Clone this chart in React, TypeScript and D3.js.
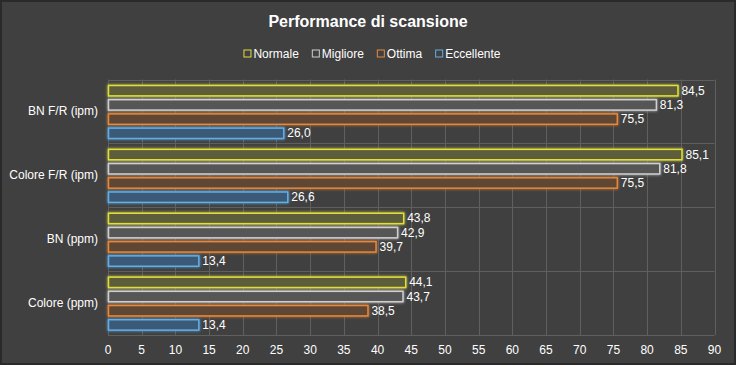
import React, { useRef, useEffect } from 'react';
import * as d3 from 'd3';

const categories = ['BN F/R (ipm)', 'Colore F/R (ipm)', 'BN (ppm)', 'Colore (ppm)'];
const seriesNames = ['Normale', 'Migliore', 'Ottima', 'Eccellente'];
const normale = [84.5, 85.1, 43.8, 44.1];
const migliore = [81.3, 81.8, 42.9, 43.7];
const ottima = [75.5, 75.5, 39.7, 38.5];
const eccellente = [26.0, 26.6, 13.4, 13.4];
const xTicks = [0, 5, 10, 15, 20, 25, 30, 35, 40, 45, 50, 55, 60, 65, 70, 75, 80, 85, 90];

const strokes = ['#dede3c', '#cfcfcf', '#e8883a', '#62aee6'];
const fills = ['#5d5d3a', '#565656', '#5f4636', '#3b5a78'];

const App = () => {
  const ref = useRef<SVGSVGElement>(null);

  useEffect(() => {
    document.body.style.margin = '0';
    const width = 736, height = 365;
    const margin = { top: 79.5, right: 22, bottom: 30, left: 108 };
    const font = '"Liberation Sans", Arial, sans-serif';

    const svg = d3.select(ref.current);
    svg.selectAll('*').remove();
    svg.attr('width', width).attr('height', height);

    const defs = svg.append('defs');
    const f = defs.append('filter').attr('id', 'glow')
      .attr('x', '-20%').attr('y', '-60%').attr('width', '140%').attr('height', '220%');
    f.append('feGaussianBlur').attr('in', 'SourceGraphic').attr('stdDeviation', 1.6).attr('result', 'b');
    const m = f.append('feMerge');
    m.append('feMergeNode').attr('in', 'b');
    m.append('feMergeNode').attr('in', 'SourceGraphic');

    svg.append('rect').attr('width', width).attr('height', height).attr('fill', '#2a2a2a');
    svg.append('rect').attr('x', 2).attr('y', 2).attr('width', width - 4).attr('height', height - 4).attr('fill', '#404040');

    svg.append('text').attr('x', width / 2).attr('y', 27)
      .attr('text-anchor', 'middle').attr('fill', '#ffffff')
      .style('font-family', font).style('font-weight', 'bold').style('font-size', '16px')
      .text('Performance di scansione');

    // legend
    const lg = svg.append('g');
    let lx = 0;
    seriesNames.forEach((name, i) => {
      const g = lg.append('g').attr('transform', `translate(${lx},0)`);
      g.append('rect').attr('x', 0.5).attr('y', -3.5).attr('width', 7).attr('height', 7)
        .attr('fill', 'none').attr('stroke', strokes[i]).attr('stroke-width', 1);
      const t = g.append('text').attr('x', 10).attr('y', 4.5).attr('fill', '#ffffff')
        .style('font-family', font).style('font-size', '12px').text(name);
      const w = (t.node() as SVGTextElement).getComputedTextLength();
      lx += 10 + w + 13;
    });
    lx -= 13;
    lg.attr('transform', `translate(${(width - lx) / 2 + 4},53.5)`);

    const innerH = height - margin.top - margin.bottom;
    const x = d3.scaleLinear().domain([0, 90]).range([margin.left, 714.5]);
    const y0 = d3.scaleBand().domain(categories).range([margin.top, margin.top + innerH]);
    const y1 = d3.scaleBand().domain(seriesNames).range([6, 59]).paddingInner(0.27);

    const grid = svg.append('g');
    grid.selectAll('line.v').data(xTicks).join('line')
      .attr('x1', d => Math.round(x(d)) + 0.5).attr('x2', d => Math.round(x(d)) + 0.5)
      .attr('y1', margin.top).attr('y2', margin.top + innerH)
      .attr('stroke', '#5f5f5f');
    const hs = categories.map(c => y0(c) as number).concat([margin.top + innerH]);
    grid.selectAll('line.h').data(hs).join('line')
      .attr('x1', margin.left).attr('x2', x(90))
      .attr('y1', d => Math.round(d) + 0.5).attr('y2', d => Math.round(d) + 0.5)
      .attr('stroke', '#5f5f5f');

    const seriesValues = [normale, migliore, ottima, eccellente];
    const bars = svg.append('g');
    categories.forEach((cat, ci) => {
      seriesNames.forEach((s, si) => {
        const v = seriesValues[si][ci];
        const yy = (y0(cat) as number) + (y1(s) as number);
        const h = y1.bandwidth();
        bars.append('rect')
          .attr('x', x(0) + 0.5).attr('y', yy)
          .attr('width', x(v) - x(0)).attr('height', h)
          .attr('fill', fills[si]).attr('stroke', strokes[si]).attr('stroke-width', 1.5)
          .attr('filter', 'url(#glow)');
        bars.append('text')
          .attr('x', x(v) + 4).attr('y', yy + h / 2 + 4)
          .attr('fill', '#ffffff').style('font-family', font).style('font-size', '12px')
          .text(d3.format('.1f')(v).replace('.', ','));
      });
    });

    svg.append('g').selectAll('text').data(categories).join('text')
      .attr('x', 98).attr('y', d => (y0(d) as number) + y0.bandwidth() / 2 + 4)
      .attr('text-anchor', 'end').attr('fill', '#ffffff')
      .style('font-family', font).style('font-size', '12px')
      .text(d => d);

    svg.append('g').selectAll('text').data(xTicks).join('text')
      .attr('x', d => x(d)).attr('y', 354)
      .attr('text-anchor', 'middle').attr('fill', '#ffffff')
      .style('font-family', font).style('font-size', '12px')
      .text(d => String(d));
  }, []);

  return <svg ref={ref} style={{ display: 'block' }}></svg>;
};

export default App;
